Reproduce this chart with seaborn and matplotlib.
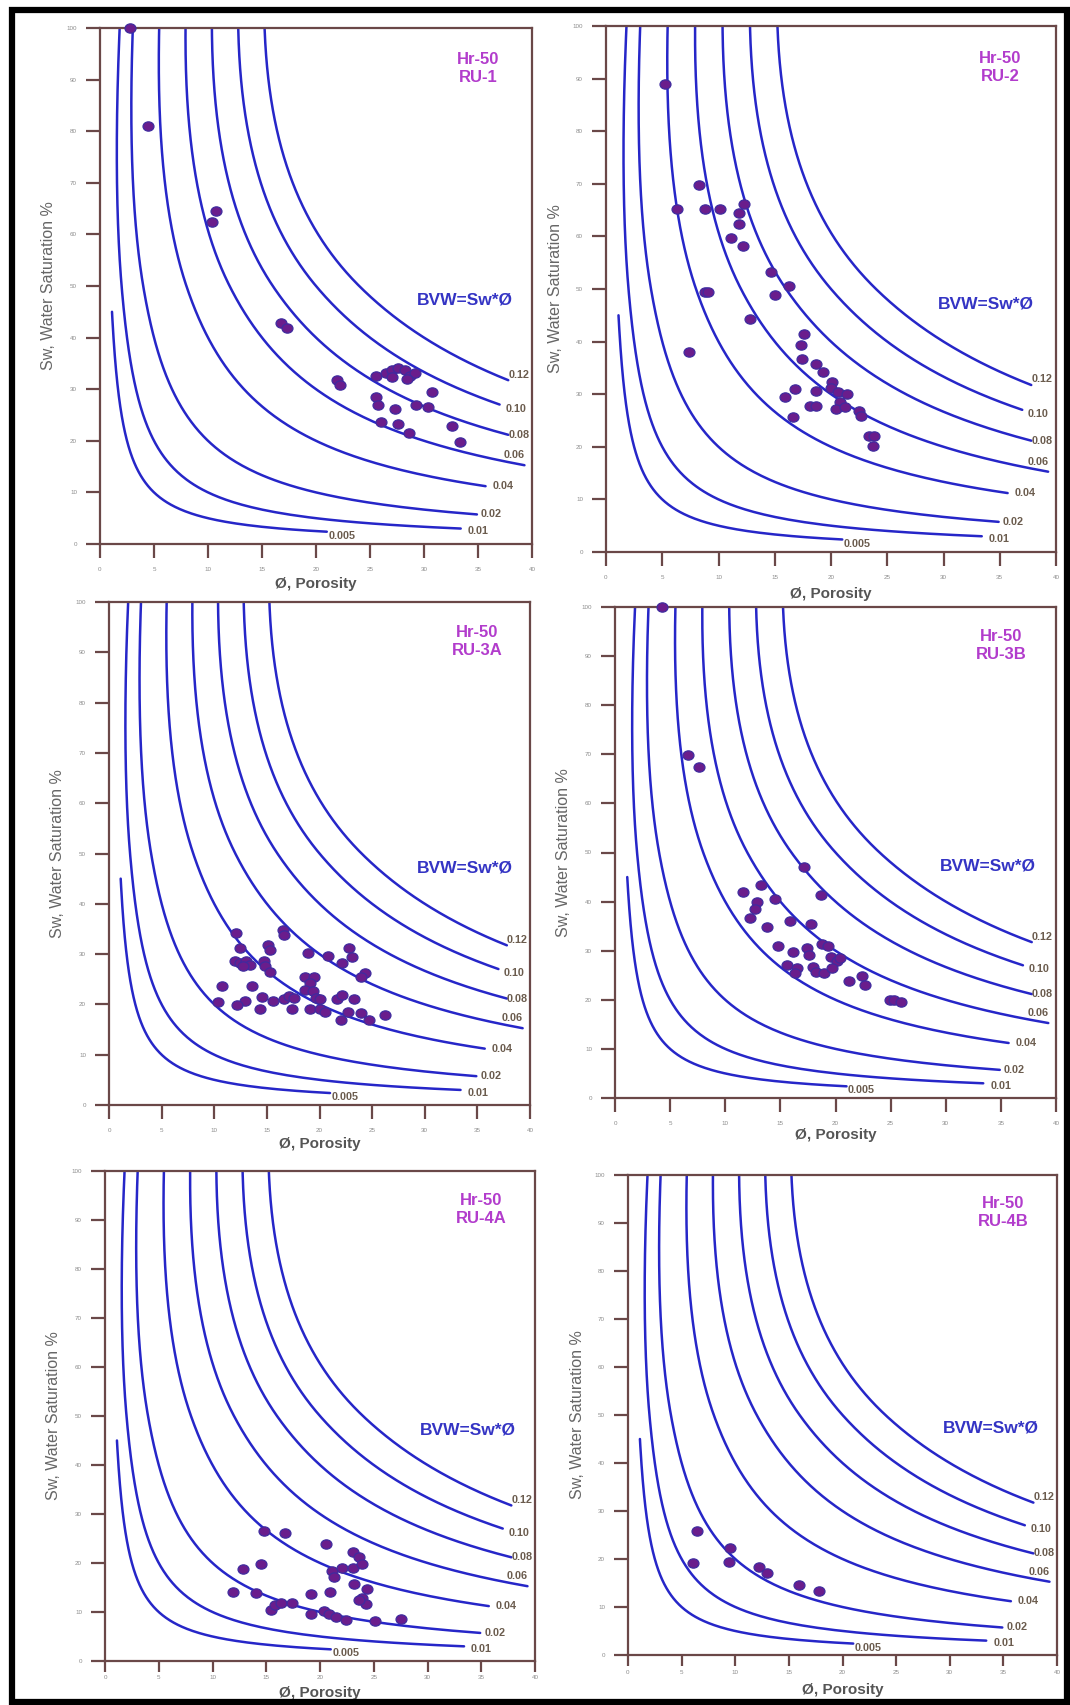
import numpy as np
import pandas as pd
import matplotlib
matplotlib.use("Agg")
import matplotlib.pyplot as plt
from matplotlib.path import Path
from matplotlib.patches import Rectangle
import seaborn as sns

# ---------------------------------------------------------------- data
# Bulk-volume-water contours: value, text, porosity (%) where each line stops,
# and the water saturation (%) where it starts at the top
bvw_values = [0.005, 0.01, 0.02, 0.04, 0.06, 0.08, 0.10, 0.12]
bvw_labels = ["0.005", "0.01", "0.02", "0.04", "0.06", "0.08", "0.10", "0.12"]
bvw_end_phi = [21.0, 33.4, 34.9, 35.7, 39.3, 37.8, 37.0, 37.8]
bvw_start_sw = [45, 100, 100, 100, 100, 100, 100, 100]

well = "Hr-50"
units = ["RU-1", "RU-2", "RU-3A", "RU-3B", "RU-4A", "RU-4B"]

phi_ru1 = [2.8, 4.4, 10.7, 10.4, 16.8, 17.3, 21.9, 22.2, 25.6, 26.5, 27.0, 27.6, 28.2, 28.7,
           29.2, 27.0, 28.4, 25.6, 25.7, 26.0, 27.3, 27.6, 28.6, 29.3, 30.4, 30.7, 32.6, 33.3]
sw_ru1 = [100.0, 81.0, 64.6, 62.4, 42.9, 41.8, 31.8, 30.9, 32.5, 33.1, 33.7, 34.1, 33.7, 32.5,
          33.1, 32.3, 32.0, 28.4, 26.9, 23.7, 26.1, 23.2, 21.5, 26.9, 26.5, 29.4, 22.9, 19.7]

phi_ru2 = [5.2, 6.3, 8.3, 8.8, 10.1, 12.3, 11.8, 11.8, 11.1, 12.2, 14.7, 16.3, 15.0, 8.8,
           9.1, 12.8, 7.4, 17.6, 17.3, 17.4, 18.7, 19.3, 20.1, 20.0, 20.6, 21.4, 18.7, 16.8,
           15.9, 18.1, 18.7, 16.6, 20.8, 20.4, 21.2, 22.5, 22.7, 23.4, 23.8, 23.7]
sw_ru2 = [88.9, 65.2, 69.7, 65.2, 65.2, 66.1, 64.4, 62.3, 59.7, 58.1, 53.2, 50.5, 48.8, 49.4,
          49.4, 44.3, 38.0, 41.4, 39.4, 36.7, 35.8, 34.3, 32.4, 31.2, 30.4, 30.0, 30.7, 30.9,
          29.5, 27.8, 27.8, 25.7, 28.6, 27.1, 27.5, 26.8, 25.9, 22.0, 22.0, 20.1]

phi_ru3a = [12.1, 12.4, 12.0, 12.4, 13.0, 13.4, 12.7, 15.1, 15.3, 14.7, 14.8, 15.3, 16.5,
            16.6, 18.9, 20.8, 22.1, 22.8, 23.1, 24.3, 23.9, 10.7, 10.4, 13.6, 12.9, 12.2,
            14.5, 14.3, 15.6, 16.6, 17.1, 17.6, 17.4, 18.6, 19.5, 19.1, 18.6, 19.4, 19.7,
            20.0, 19.1, 20.0, 20.5, 21.7, 22.1, 23.3, 22.0, 22.7, 23.9, 24.7, 26.2]
sw_ru3a = [34.2, 31.3, 28.7, 28.3, 28.7, 27.9, 27.6, 31.8, 30.9, 28.7, 27.6, 26.5, 34.7,
           33.8, 30.3, 29.6, 28.3, 31.3, 29.4, 26.3, 25.4, 23.7, 20.4, 23.7, 20.6, 19.9,
           21.5, 19.0, 20.7, 21.0, 21.7, 21.3, 19.0, 25.4, 25.4, 24.3, 22.8, 22.6, 21.3,
           21.0, 19.1, 19.0, 18.5, 21.0, 21.9, 21.0, 16.9, 18.5, 18.2, 16.9, 17.8]

phi_ru3b = [4.3, 6.6, 7.6, 17.1, 18.7, 13.2, 11.6, 14.5, 12.9, 12.7, 12.2, 13.8, 15.9, 17.8,
            14.8, 16.1, 17.4, 17.6, 15.6, 16.5, 16.3, 18.0, 18.2, 19.0, 18.8, 19.3, 19.6,
            20.1, 20.4, 19.7, 21.2, 22.4, 22.7, 24.9, 25.3, 25.9]
sw_ru3b = [100.0, 69.8, 67.4, 47.1, 41.4, 43.3, 41.9, 40.5, 39.9, 38.4, 36.7, 34.8, 36.0,
           35.4, 31.0, 29.7, 30.5, 29.2, 27.1, 26.5, 25.5, 26.7, 25.6, 25.5, 31.3, 30.9,
           28.8, 27.9, 28.5, 26.4, 23.9, 24.8, 23.0, 20.0, 20.0, 19.6]

phi_ru4a = [14.8, 16.7, 20.6, 14.5, 12.8, 11.9, 14.0, 15.4, 15.8, 16.4, 17.4, 19.2, 20.9,
            19.2, 20.4, 20.8, 21.5, 22.4, 25.1, 27.5, 21.1, 21.3, 22.0, 23.1, 23.6, 23.1,
            23.9, 23.2, 24.4, 23.9, 24.3, 23.6]
sw_ru4a = [26.6, 26.1, 23.9, 19.7, 18.7, 14.0, 13.8, 10.5, 11.4, 11.8, 11.9, 13.6, 14.0,
           9.6, 10.3, 9.6, 9.0, 8.3, 8.2, 8.5, 18.3, 17.2, 19.0, 22.3, 21.2, 19.0, 19.7,
           15.8, 14.7, 12.9, 11.6, 12.5]

phi_ru4b = [6.4, 6.1, 9.5, 9.4, 12.2, 13.0, 15.9, 17.8]
sw_ru4b = [25.8, 19.2, 22.3, 19.4, 18.3, 17.0, 14.6, 13.3]

phi_sets = [phi_ru1, phi_ru2, phi_ru3a, phi_ru3b, phi_ru4a, phi_ru4b]
sw_sets = [sw_ru1, sw_ru2, sw_ru3a, sw_ru3b, sw_ru4a, sw_ru4b]

x_ticks = list(range(0, 41, 5))
y_ticks = list(range(0, 101, 10))

# ---------------------------------------------------------------- style
sns.set_style("ticks")
plt.rcParams["font.family"] = ["Liberation Sans", "DejaVu Sans"]

W, H = 1070, 1705
# axes boxes in pixels: left, right, top, bottom, x-label drop below the axes,
# and x tick length / label pad (points)
panel_boxes = [(100, 532, 28, 544, 40, 10, 6.5), (606, 1056, 26, 552, 42, 10, 6.5),
               (109, 530, 602, 1105, 39, 10, 6.5), (615, 1056, 607, 1098, 37, 10, 6.5),
               (105, 535, 1171, 1661, 32, 8, 2.0), (628, 1057, 1175, 1655, 35, 8, 2.5)]

line_color = "#2626c8"
dot_face = "#6a1d8c"
dot_edge = "#3f2b9f"
spine_color = "#6a4848"
label_color = "#6b5c4e"
# text nudges (points) for the contour labels, relative to each line end
label_nudge = {"0.005": (1, -3), "0.01": (5, -2), "0.02": (3, 0), "0.04": (5, 0),
               "0.06": (-15, 7), "0.08": (0, 0), "0.10": (4, -3), "0.12": (0, 4)}

circle = Path.unit_circle()
ellipse_marker = Path(circle.vertices * np.array([1.18, 1.0]), circle.codes)


def bvw_curve(bvw, phi_end, sw_top):
    """Sw-Ø line of constant BVW; it steepens towards 100 % saturation."""
    sw = np.linspace(bvw / (phi_end / 100.0), sw_top / 100.0, 400)
    h = np.clip((sw - 0.5) / 0.5, 0, 1) ** 2
    phi = bvw / sw * (1 + 0.22 * h) + 0.006 * h
    return phi * 100.0, sw * 100.0


fig = plt.figure(figsize=(W / 100, H / 100), dpi=100)
fig.patch.set_facecolor("white")

for unit, phis, sws, box in zip(units, phi_sets, sw_sets, panel_boxes):
    l, r, t, b, drop, xlen, xpad = box
    ax = fig.add_axes([l / W, 1 - b / H, (r - l) / W, (b - t) / H])
    ax.set_facecolor("white")

    for val, txt, pend, stop in zip(bvw_values, bvw_labels, bvw_end_phi, bvw_start_sw):
        cx, cy = bvw_curve(val, pend, stop)
        curve = pd.DataFrame({"phi": cx, "sw": cy})
        sns.lineplot(data=curve, x="phi", y="sw", sort=False, estimator=None,
                     color=line_color, lw=1.8, ax=ax, zorder=2)
        dx, dy = label_nudge[txt]
        ax.annotate(txt, xy=(cx[0], cy[0]), xytext=(dx, dy), textcoords="offset points",
                    ha="left", va="center", fontsize=7.8, fontweight="bold",
                    color=label_color, annotation_clip=False, zorder=4)

    pts = pd.DataFrame({"phi": phis, "sw": sws})
    sns.scatterplot(data=pts, x="phi", y="sw", ax=ax, s=62, marker=ellipse_marker,
                    color=dot_face, edgecolor=dot_edge, linewidth=0.9,
                    clip_on=False, zorder=5, legend=False)

    ax.set_xlim(0, 40)
    ax.set_ylim(0, 100)
    ax.set_xticks(x_ticks)
    ax.set_yticks(y_ticks)
    ax.tick_params(axis="both", direction="out", width=1.6, color=spine_color,
                   labelsize=4.5, labelcolor="#8c8c8c")
    ax.tick_params(axis="y", length=10, pad=6.5)
    ax.tick_params(axis="x", length=xlen, pad=xpad)
    for s in ax.spines.values():
        s.set_color(spine_color)
        s.set_linewidth(1.6)

    ax.set_xlabel("Ø, Porosity", fontsize=11, fontweight="bold", color="#555555")
    ax.set_ylabel("Sw, Water Saturation %", fontsize=11.5, color="#666666")
    ax.xaxis.label.set_va("center")
    ax.yaxis.label.set_va("center")
    ax.xaxis.set_label_coords(0.5, -drop / (b - t))
    ax.yaxis.set_label_coords(-51 / (r - l), 0.5)

    ax.text(0.875, 0.922, f"{well}\n{unit}", transform=ax.transAxes, ha="center",
            va="center", fontsize=12, fontweight="bold", color="#b23ccc",
            linespacing=1.25)
    ax.text(0.845, 0.472, "BVW=Sw*Ø", transform=ax.transAxes, ha="center",
            va="center", fontsize=12.5, fontweight="bold", color="#3434c4")

# outer frame
fig.patches.append(Rectangle((12 / W, 1 - 1702 / H), (1067 - 12) / W, (1702 - 10) / H,
                             transform=fig.transFigure, fill=False, edgecolor="black",
                             linewidth=4.5, zorder=10))

fig.savefig("out.png", dpi=100, facecolor="white")
